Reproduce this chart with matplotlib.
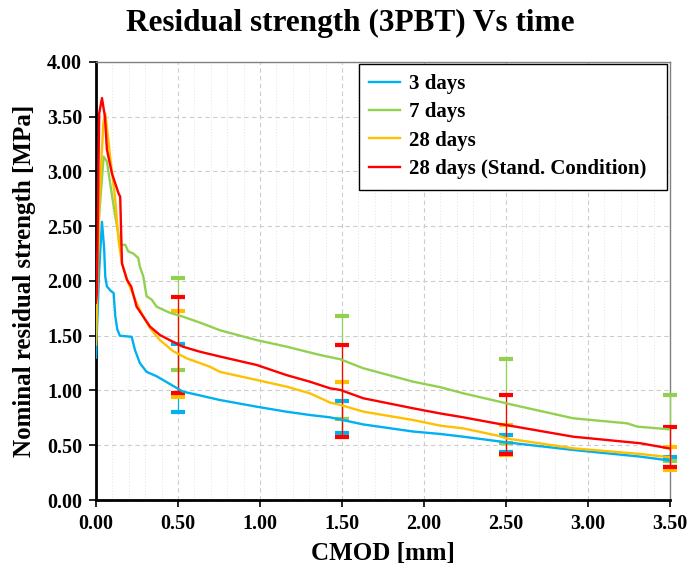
import matplotlib
matplotlib.use("Agg")
import matplotlib.pyplot as plt
from matplotlib.ticker import MultipleLocator, FormatStrFormatter

# ---- data ----
labels = ["3 days", "7 days", "28 days", "28 days (Stand. Condition)"]
colors = ["#00B0F0", "#92D050", "#FFC000", "#FF0000"]

x_3d = [0, 0.02, 0.037, 0.05, 0.057, 0.067, 0.09, 0.108, 0.113, 0.118, 0.13, 0.146,
        0.218, 0.228, 0.238, 0.268, 0.309, 0.37, 0.45, 0.53, 0.634, 0.756, 0.98,
        1.163, 1.305, 1.427, 1.49, 1.63, 1.935, 2.1, 2.24, 2.46, 2.5, 2.91, 3.32, 3.5]
y_3d = [1.3, 2.1, 2.54, 2.3, 2.04, 1.95, 1.91, 1.89, 1.78, 1.68, 1.56, 1.5,
        1.49, 1.43, 1.37, 1.25, 1.17, 1.13, 1.06, 0.99, 0.955, 0.913, 0.852,
        0.806, 0.776, 0.755, 0.735, 0.69, 0.625, 0.603, 0.578, 0.535, 0.527, 0.457, 0.396, 0.36]

x_7d = [0, 0.02, 0.047, 0.067, 0.087, 0.118, 0.148, 0.179, 0.197, 0.228, 0.258,
        0.268, 0.289, 0.309, 0.34, 0.37, 0.45, 0.53, 0.634, 0.756, 0.98, 1.163,
        1.366, 1.49, 1.63, 1.935, 2.1, 2.24, 2.46, 2.5, 2.91, 3.24, 3.3, 3.5]
y_7d = [1.55, 2.6, 3.135, 3.09, 2.89, 2.59, 2.33, 2.33, 2.27, 2.25, 2.21,
        2.13, 2.04, 1.86, 1.83, 1.765, 1.71, 1.674, 1.62, 1.55, 1.46, 1.40,
        1.324, 1.285, 1.203, 1.08, 1.03, 0.974, 0.898, 0.883, 0.746, 0.70, 0.67, 0.645]

x_28d = [0, 0.02, 0.045, 0.057, 0.075, 0.087, 0.118, 0.138, 0.159, 0.2, 0.248,
         0.289, 0.33, 0.39, 0.47, 0.553, 0.634, 0.695, 0.756, 0.98, 1.163, 1.305,
         1.427, 1.49, 1.63, 1.935, 2.1, 2.24, 2.46, 2.5, 2.91, 3.32, 3.5]
y_28d = [1.42, 2.7, 3.44, 3.53, 3.3, 3.135, 2.74, 2.37, 2.16, 1.97, 1.8,
         1.674, 1.568, 1.46, 1.36, 1.294, 1.25, 1.217, 1.17, 1.096, 1.035, 0.974,
         0.89, 0.868, 0.807, 0.73, 0.679, 0.654, 0.584, 0.563, 0.472, 0.42, 0.39]

x_28s = [0, 0.006, 0.02, 0.037, 0.055, 0.067, 0.098, 0.138, 0.148, 0.159, 0.189,
         0.215, 0.248, 0.289, 0.33, 0.39, 0.45, 0.53, 0.634, 0.756, 0.98, 1.163,
         1.305, 1.427, 1.49, 1.63, 1.935, 2.1, 2.24, 2.46, 2.5, 2.91, 3.32, 3.5]
y_28s = [1.8, 1.89, 3.53, 3.67, 3.5, 3.2, 2.98, 2.8, 2.77, 2.16, 2.01,
         1.95, 1.765, 1.674, 1.583, 1.507, 1.46, 1.40, 1.354, 1.31, 1.233, 1.14,
         1.08, 1.02, 1.005, 0.929, 0.837, 0.79, 0.755, 0.694, 0.685, 0.578, 0.518, 0.47]

err_x = [0.5, 1.5, 2.5, 3.5]
low_3d = [0.807, 0.615, 0.44, 0.304]
high_3d = [1.42, 0.904, 0.597, 0.39]
low_7d = [1.187, 0.737, 0.518, 0.356]
high_7d = [2.025, 1.68, 1.285, 0.962]
low_28d = [0.938, 0.575, 0.408, 0.274]
high_28d = [1.726, 1.08, 0.685, 0.481]
low_28s = [0.974, 0.578, 0.42, 0.298]
high_28s = [1.857, 1.415, 0.956, 0.667]

xs = [x_3d, x_7d, x_28d, x_28s]
ys = [y_3d, y_7d, y_28d, y_28s]
lows = [low_3d, low_7d, low_28d, low_28s]
highs = [high_3d, high_7d, high_28d, high_28s]

# ---- plot ----
plt.rcParams['font.family'] = ['Liberation Serif', 'DejaVu Serif']
plt.rcParams['font.weight'] = 'bold'

fig = plt.figure(figsize=(6.9, 5.66), dpi=100)
ax = fig.add_axes([0.139, 0.1166, 0.832, 0.774])

for lo, hi, c in zip(lows, highs, colors):
    mid = [(a + b) / 2 for a, b in zip(lo, hi)]
    half = [(b - a) / 2 for a, b in zip(lo, hi)]
    eb = ax.errorbar(err_x, mid, yerr=half, fmt='none', ecolor=c, elinewidth=0.9,
                     capsize=5, capthick=3, zorder=3)
    for art in eb.lines[1]:
        art.set_clip_on(False)
    for art in eb.lines[2]:
        art.set_clip_on(False)

for x, y, c, lab in zip(xs, ys, colors, labels):
    ax.plot(x, y, color=c, lw=1.7, label=lab, zorder=4)

ax.set_xlim(0, 3.5)
ax.set_ylim(0, 4.0)
ax.xaxis.set_major_locator(MultipleLocator(0.5))
ax.xaxis.set_minor_locator(MultipleLocator(0.1))
ax.yaxis.set_major_locator(MultipleLocator(0.5))
ax.xaxis.set_major_formatter(FormatStrFormatter('%.2f'))
ax.yaxis.set_major_formatter(FormatStrFormatter('%.2f'))

ax.grid(True, which='major', linestyle=(0, (4, 3)), color='#cccccc', lw=0.8, zorder=0)
ax.grid(True, which='minor', axis='x', linestyle=(0, (1, 2)), color='#e4e4e4', lw=0.7, zorder=0)
ax.set_axisbelow(True)

for s in ['left', 'bottom']:
    ax.spines[s].set_color('black')
    ax.spines[s].set_linewidth(2)
for s in ['top', 'right']:
    ax.spines[s].set_color('#808080')
    ax.spines[s].set_linewidth(1)

ax.tick_params(axis='both', which='major', direction='out', length=5, width=1.2,
               labelsize=14.5, pad=5)
ax.tick_params(axis='x', which='minor', length=0)
for t in ax.get_xticklabels() + ax.get_yticklabels():
    t.set_fontweight('bold')

ax.set_xlabel('CMOD [mm]', fontsize=18, fontweight='bold', labelpad=6)
ax.set_ylabel('Nominal residual strength [MPa]', fontsize=18, fontweight='bold', labelpad=8)
fig.suptitle('Residual strength (3PBT) Vs time', fontsize=22.5, fontweight='bold',
             x=0.507, y=0.985)

leg = ax.legend(loc='upper right', bbox_to_anchor=(0.995, 0.996), borderaxespad=0,
                prop={'size': 15, 'weight': 'bold'}, fancybox=False, framealpha=1,
                edgecolor='black', handlelength=1.5, handletextpad=0.4,
                labelspacing=0.4, borderpad=0.5)
leg.get_frame().set_linewidth(1.0)
leg.set_zorder(10)
for txt in leg.get_texts():
    txt.set_text(txt.get_text() + '  ')

fig.savefig('out.png', dpi=100)
